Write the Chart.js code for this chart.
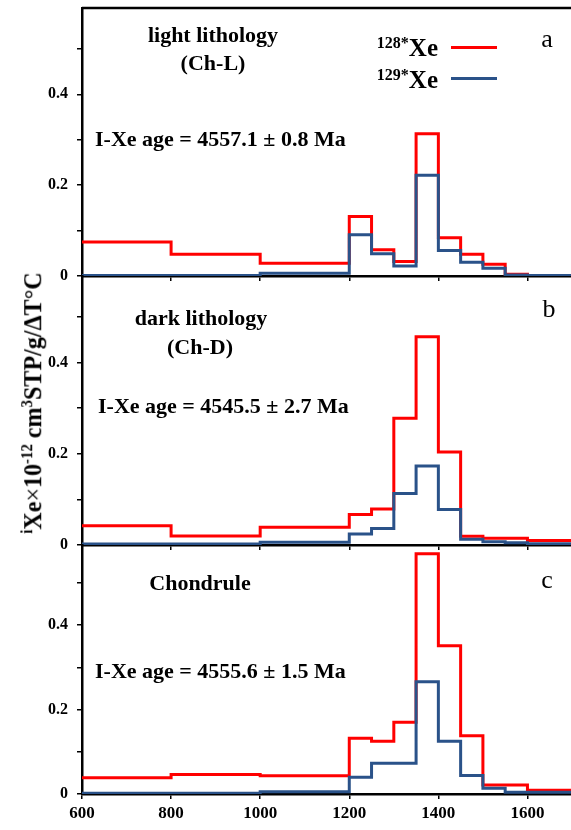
<!DOCTYPE html>
<html><head><meta charset="utf-8">
<script src="https://cdn.jsdelivr.net/npm/chart.js@4.4.0/dist/chart.umd.min.js"></script>
<style>
html,body{margin:0;padding:0;overflow:hidden;background:#fff;width:571px;height:830px;}
#wrap{position:relative;width:571px;height:830px;overflow:hidden;background:#fff;}
canvas{position:absolute;left:0;}
.t{position:absolute;font-family:'Liberation Serif','Times New Roman',serif;font-weight:bold;color:#000;white-space:nowrap;line-height:1;transform:translate(-50%,-50%);}
.l{transform:translate(0,-50%);}
.r{transform:translate(-100%,-50%);}
.n{font-weight:normal;}
.sup{position:relative;line-height:0;}
.leg{position:absolute;height:3.5px;width:46px;left:451px;}
#ytitle{position:absolute;font-family:'Liberation Serif','Times New Roman',serif;font-weight:bold;font-size:26px;line-height:1;white-space:nowrap;color:#000;}
</style></head><body>
<div id="wrap">
<canvas id="ca" width="600" height="300" style="top:0px"></canvas>
<canvas id="cb" width="600" height="301" style="top:268px"></canvas>
<canvas id="cc" width="600" height="293" style="top:537px"></canvas>

<div class="t" style="left:213px;top:35px;font-size:22px">light lithology</div>
<div class="t" style="left:213px;top:63px;font-size:22px">(Ch-L)</div>
<div class="t l" style="left:95px;top:139px;font-size:22px">I-Xe age = 4557.1 ± 0.8 Ma</div>
<div class="t n" style="left:547px;top:39px;font-size:26px">a</div>

<div class="t r" style="left:438px;top:47px;font-size:25px"><span class="sup" style="font-size:16px;top:-8px">128*</span>Xe</div>
<div class="t r" style="left:438px;top:79px;font-size:25px"><span class="sup" style="font-size:16px;top:-8px">129*</span>Xe</div>
<div class="leg" style="top:45.5px;background:#ff0000"></div>
<div class="leg" style="top:76.5px;background:#2a5289"></div>

<div class="t" style="left:201px;top:318px;font-size:22px">dark lithology</div>
<div class="t" style="left:200px;top:347px;font-size:22px">(Ch-D)</div>
<div class="t l" style="left:98px;top:406px;font-size:22px">I-Xe age = 4545.5 ± 2.7 Ma</div>
<div class="t n" style="left:549px;top:309px;font-size:26px">b</div>

<div class="t" style="left:200px;top:583px;font-size:22px">Chondrule</div>
<div class="t l" style="left:95px;top:671px;font-size:22px">I-Xe age = 4555.6 ± 1.5 Ma</div>
<div class="t n" style="left:547px;top:580px;font-size:26px">c</div>

<div id="ytitle"><span class="sup" style="font-size:16px;top:-9px">i</span>Xe<span style="font-weight:normal">×</span>10<span class="sup" style="font-size:16px;top:-9px">-12</span> cm<span class="sup" style="font-size:16px;top:-9px">3</span>STP/g/ΔT°C</div>
</div>
<script>
// Temperature step edges (°C)
const binEdges = [600, 800, 1000, 1200, 1250, 1300, 1350, 1400, 1450, 1500, 1550, 1600, 1700];
const xTickValues = [600, 800, 1000, 1200, 1400, 1600];
const yTickMarks = [0, 0.1, 0.2, 0.3, 0.4, 0.5];
const yTickLabels = [0, 0.2, 0.4];

// (a) light lithology (Ch-L)
const xe128_L = [0.075, 0.048, 0.028, 0.131, 0.058, 0.032, 0.313, 0.084, 0.048, 0.026, 0.004, 0.001];
const xe129_L = [0.001, 0.001, 0.006, 0.091, 0.049, 0.022, 0.222, 0.056, 0.030, 0.017, 0.002, 0.001];
// (b) dark lithology (Ch-D)
const xe128_D = [0.042, 0.020, 0.039, 0.067, 0.079, 0.278, 0.457, 0.204, 0.019, 0.015, 0.015, 0.010];
const xe129_D = [0.002, 0.002, 0.006, 0.024, 0.036, 0.113, 0.173, 0.078, 0.0125, 0.007, 0.005, 0.003];
// (c) Chondrule
const xe128_C = [0.0386, 0.0465, 0.0434, 0.132, 0.125, 0.170, 0.569, 0.351, 0.138, 0.0213, 0.0213, 0.0090];
const xe129_C = [0.002, 0.002, 0.0055, 0.0395, 0.073, 0.073, 0.266, 0.125, 0.0440, 0.0135, 0.004, 0.004];

const RED = '#ff0000', BLUE = '#2a5289';
const FONT = "'Liberation Serif','Times New Roman',serif";

function stepPoints(vals) {
  return binEdges.map((e, i) => ({ x: e, y: vals[Math.min(i, vals.length - 1)] }));
}

const topLine = {
  id: 'topLine',
  afterDraw(chart) {
    if (!chart.options.plugins.topLine || !chart.options.plugins.topLine.show) return;
    const { ctx, chartArea: a } = chart;
    ctx.save();
    ctx.strokeStyle = '#000';
    ctx.lineWidth = 2.5;
    ctx.beginPath();
    ctx.moveTo(a.left, a.top);
    ctx.lineTo(a.right + 5, a.top);
    ctx.stroke();
    ctx.restore();
  }
};

function makePanel(id, red, blue, ymax, padTop, xAxisH, showXLabels, showTop) {
  return new Chart(document.getElementById(id), {
    type: 'line',
    data: {
      datasets: [
        { label: '129*Xe', data: stepPoints(blue), borderColor: BLUE, borderWidth: 3, stepped: 'before', pointRadius: 0, fill: false, order: 0 },
        { label: '128*Xe', data: stepPoints(red), borderColor: RED, borderWidth: 3, stepped: 'before', pointRadius: 0, fill: false, order: 1 }
      ]
    },
    options: {
      responsive: false, animation: false, devicePixelRatio: 1,
      layout: { padding: { top: padTop, right: 28, left: 0, bottom: 0 } },
      plugins: { legend: { display: false }, tooltip: { enabled: false }, topLine: { show: showTop } },
      scales: {
        x: {
          type: 'linear', min: 600, max: 1700,
          afterBuildTicks: s => { s.ticks = xTickValues.map(v => ({ value: v })); },
          afterFit: s => { s.height = xAxisH; s.paddingLeft = 0; s.paddingRight = 0; },
          grid: { drawOnChartArea: false, drawTicks: true, tickLength: 5, color: '#000', lineWidth: 1.5 },
          border: { display: true, color: '#000', width: 2.5 },
          ticks: { display: showXLabels, padding: 4, color: '#000', maxRotation: 0, autoSkip: false,
                   font: { family: FONT, weight: 'bold', size: 17 },
                   callback: v => String(v) }
        },
        y: {
          min: 0, max: ymax,
          afterBuildTicks: s => { s.ticks = yTickMarks.map(v => ({ value: v })); },
          afterFit: s => { s.width = 82; s.paddingTop = 0; s.paddingBottom = 0; },
          grid: { drawOnChartArea: false, drawTicks: true, tickLength: 5, color: '#000', lineWidth: 1.5 },
          border: { display: true, color: '#000', width: 2.5 },
          ticks: {
            padding: 9, color: '#000', font: { family: FONT, weight: 'bold', size: 16 },
            callback: v => yTickLabels.some(t => Math.abs(t - v) < 1e-9) ? (v === 0 ? '0' : v.toFixed(1)) : ''
          }
        }
      }
    },
    plugins: [topLine]
  });
}

makePanel('ca', xe128_L, xe129_L, 0.59, 8, 24, false, true);
makePanel('cb', xe128_D, xe129_D, 0.59, 8, 24, false, false);
makePanel('cc', xe128_C, xe129_C, 0.59, 8, 36, true, false);

// rotated y-axis title
const ttl = document.getElementById('ytitle');
const w = ttl.offsetWidth, h = ttl.offsetHeight;
const sc = 261 / w;
ttl.style.left = (33 - w / 2) + 'px';
ttl.style.top = (402.5 - h / 2) + 'px';
ttl.style.transform = 'rotate(-90deg) scaleX(' + sc + ')';
</script>
</body></html>
